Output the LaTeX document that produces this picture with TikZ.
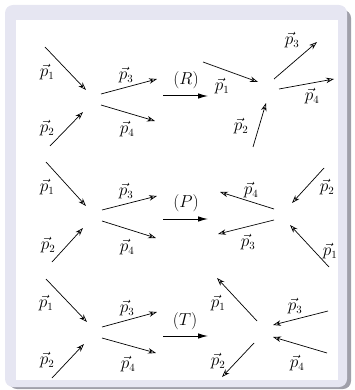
\documentclass[tikz,border=0pt]{standalone}
\usetikzlibrary{arrows.meta}
\definecolor{framebg}{RGB}{230,230,242}
\definecolor{frameshadow}{RGB}{160,160,170}
\begin{document}
\begin{tikzpicture}[x=1pt,y=-1pt,
  mom/.style={line width=0.7pt, -{Stealth[open,length=8pt,width=5.5pt]}},
  react/.style={line width=1pt, -{Latex[length=10pt,width=5.5pt]}},
  lbl/.style={font=\fontsize{16}{18}\selectfont, inner sep=0pt},
]
\useasboundingbox (0,0) rectangle (355,390);
\fill[frameshadow, rounded corners=8pt] (9,10) rectangle (351,389);
\fill[framebg, rounded corners=8pt] (5,5) rectangle (347,387);
\fill[white] (16,20) rectangle (338,380);

% ---------- Row 1 (R) ----------
\draw[mom] (45,47) -- (86,90);
\draw[mom] (50,146) -- (83,112);
\draw[mom] (101,94) -- (157,79);
\draw[mom] (101,105) -- (155,121);
\node[lbl] (r1p1) at (47,72) {$\vec{p}_1$};
\node[lbl] (r1p2) at (47,128) {$\vec{p}_2$};
\node[lbl] (r1p3) at (126,75) {$\vec{p}_3$};
\node[lbl] (r1p4) at (127,129) {$\vec{p}_4$};
\draw[react] (163,96) -- (208,96);
\node[lbl] (R) at (186,80) {$(R)$};
\draw[mom] (203,62) -- (258,82);
\draw[mom] (274,79) -- (317,42);
\draw[mom] (279,89) -- (334,79);
\draw[mom] (253,147) -- (266,103);
\node[lbl] (r2p1) at (222,86) {$\vec{p}_1$};
\node[lbl] (r2p3) at (292,40) {$\vec{p}_3$};
\node[lbl] (r2p4) at (312,96) {$\vec{p}_4$};
\node[lbl] (r2p2) at (241,126) {$\vec{p}_2$};

% ---------- Row 2 (P) ----------
\draw[mom] (46,162) -- (86,206);
\draw[mom] (52,262) -- (83,228);
\draw[mom] (102,210) -- (157,196);
\draw[mom] (102,221) -- (156,238);
\node[lbl] (p1p1) at (47,187) {$\vec{p}_1$};
\node[lbl] (p1p2) at (48,245) {$\vec{p}_2$};
\node[lbl] (p1p3) at (126,191) {$\vec{p}_3$};
\node[lbl] (p1p4) at (127,247) {$\vec{p}_4$};
\draw[react] (163,219) -- (208,219);
\node[lbl] (P) at (186,203) {$(P)$};
\draw[mom] (274,209) -- (220,192);
\draw[mom] (274,220) -- (218,234);
\draw[mom] (324,168) -- (292,203);
\draw[mom] (329,267) -- (290,225);
\node[lbl] (p2p4) at (251,190) {$\vec{p}_4$};
\node[lbl] (p2p3) at (248,242) {$\vec{p}_3$};
\node[lbl] (p2p2) at (327,187) {$\vec{p}_2$};
\node[lbl] (p2p1) at (330,251) {$\vec{p}_1$};

% ---------- Row 3 (T) ----------
\draw[mom] (46,279) -- (87,322);
\draw[mom] (52,378) -- (84,344);
\draw[mom] (102,327) -- (157,312);
\draw[mom] (102,338) -- (156,353);
\node[lbl] (t1p1) at (46,303) {$\vec{p}_1$};
\node[lbl] (t1p2) at (47,360) {$\vec{p}_2$};
\node[lbl] (t1p3) at (127,308) {$\vec{p}_3$};
\node[lbl] (t1p4) at (128,364) {$\vec{p}_4$};
\draw[react] (163,336) -- (208,336);
\node[lbl] (T) at (185,321) {$(T)$};
\draw[mom] (257,321) -- (217,278);
\draw[mom] (254,343) -- (222,377);
\draw[mom] (328,311) -- (273,325);
\draw[mom] (327,353) -- (273,337);
\node[lbl] (t2p1) at (218,303) {$\vec{p}_1$};
\node[lbl] (t2p2) at (218,361) {$\vec{p}_2$};
\node[lbl] (t2p3) at (295,306) {$\vec{p}_3$};
\node[lbl] (t2p4) at (297,363) {$\vec{p}_4$};
\end{tikzpicture}
\end{document}
